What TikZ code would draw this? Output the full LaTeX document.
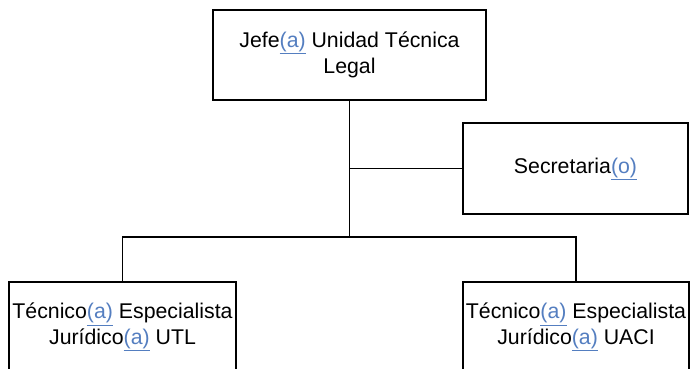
\documentclass[tikz,border=0pt]{standalone}
\usepackage{fontspec}
\setmainfont{Liberation Sans}
\definecolor{altblue}{RGB}{84,126,192}
\newcommand{\alt}[1]{\textcolor{altblue}{\underline{#1}}}
\begin{document}
\begin{tikzpicture}[x=1pt,y=-1pt,
  box/.style={draw=black,line width=1.6pt,fill=white,align=center,
    font=\fontsize{21.3}{25.5}\selectfont,inner sep=0pt},
  link/.style={line width=1.6pt}]
\useasboundingbox (0,0) rectangle (690,368);
\clip (0,0) rectangle (690,368);
% boxes
\node[box,minimum width=273pt,minimum height=90pt] (jefe) at (349.5,55) {Jefe\alt{(a)} Unidad Técnica\\Legal};
\node[box,minimum width=225pt,minimum height=91pt] (sec) at (575.5,168.5) {Secretaria\alt{(o)}};
\node[box,minimum width=227pt,minimum height=90pt] (utl) at (122.5,327) {Técnico\alt{(a)} Especialista\\Jurídico\alt{(a)} UTL};
\node[box,minimum width=226pt,minimum height=90pt] (uaci) at (576,327) {Técnico\alt{(a)} Especialista\\Jurídico\alt{(a)} UACI};
% connectors
\coordinate (bus) at (jefe.south |- 0,237);
\draw[link] (jefe.south) -- (bus);
\draw[link] (jefe.south |- sec.west) -- (sec.west);
\draw[link] (utl.north) -- (utl.north |- bus) -- (uaci.north |- bus) -- (uaci.north);
\end{tikzpicture}
\end{document}
